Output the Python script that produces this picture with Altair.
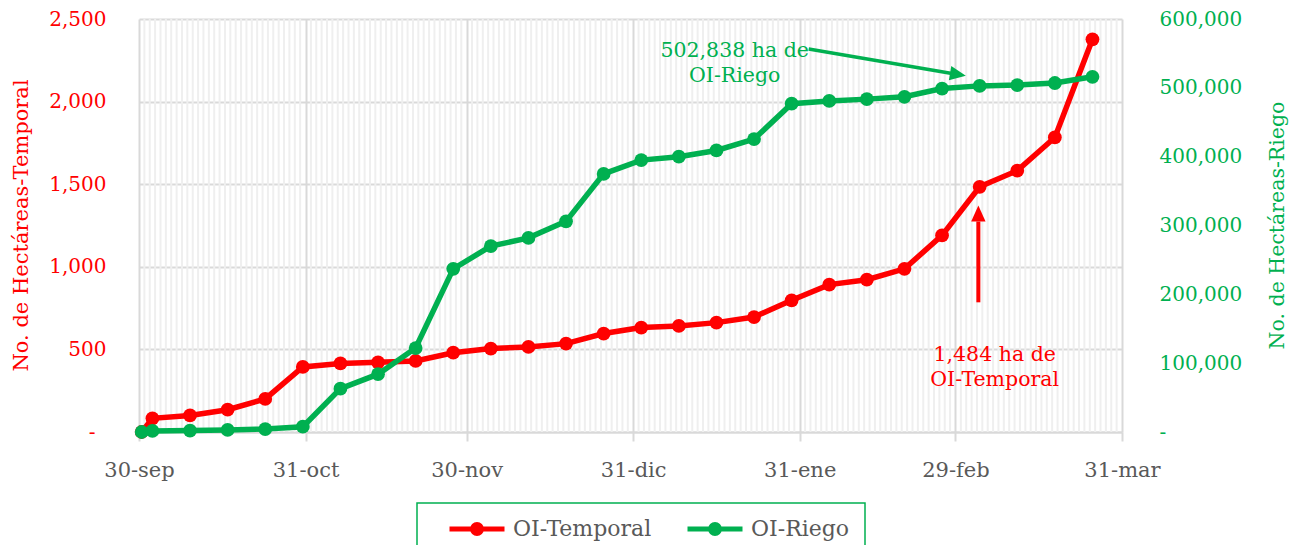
import altair as alt
import pandas as pd

# ---------------- data ----------------
fechas = ["2019-09-30", "2019-10-02", "2019-10-09", "2019-10-16", "2019-10-23", "2019-10-30",
          "2019-11-06", "2019-11-13", "2019-11-20", "2019-11-27", "2019-12-04", "2019-12-11",
          "2019-12-18", "2019-12-25", "2020-01-01", "2020-01-08", "2020-01-15", "2020-01-22",
          "2020-01-29", "2020-02-05", "2020-02-12", "2020-02-19", "2020-02-26", "2020-03-04",
          "2020-03-11", "2020-03-18", "2020-03-25"]
oi_temporal = [0, 83, 100, 135, 200, 394, 415, 422, 430, 480, 505, 515, 535, 596, 632, 642,
               662, 696, 797, 892, 922, 988, 1190, 1484, 1582, 1783, 2377]
oi_riego = [0, 1500, 2000, 3000, 4300, 7700, 63000, 84000, 122000, 237000, 270000, 282000,
            306000, 375000, 395000, 400000, 409000, 425500, 477000, 481000, 483600, 487000,
            499000, 502838, 504000, 507000, 516000]

series = ["OI-Temporal", "OI-Riego"]
meses_es = ["ene", "feb", "mar", "abr", "may", "jun", "jul", "ago", "sep", "oct", "nov", "dic"]
ticks_x = [(2019, 9, 30), (2019, 10, 31), (2019, 11, 30), (2019, 12, 31),
           (2020, 1, 31), (2020, 2, 29), (2020, 3, 31)]
ticks_left = [0, 500, 1000, 1500, 2000, 2500]
ticks_right = [0, 100000, 200000, 300000, 400000, 500000, 600000]

titulo_izq = "No. de Hectáreas-Temporal"
titulo_der = "No. de Hectáreas-Riego"

# annotations (day offsets from 30-sep, values in the axis units of each series)
texto_riego = ["502,838 ha de", "OI-Riego"]
texto_temporal = ["1,484 ha de", "OI-Temporal"]
texto_riego_pos = (110.9, 553600)
texto_temporal_pos = (159.3, 465)
flecha_riego = (124.67, 556500, 151.36, 520900)     # start day, start val, end day, end val
punta_riego = (153.93, 517400)
flecha_temporal = (156.26, 785, 156.26, 1274)
punta_temporal = (156.26, 1371)

# ---------------- style ----------------
FONT = "DejaVu Serif"
RED = "#ff0000"
GREEN = "#00b050"
GRAY = "#595959"
GRID = "#d9d9d9"
MINOR = "#efefef"

base = pd.Timestamp("2019-09-30")


def d(days):
    return base + pd.Timedelta(days=days)


fechas_dt = pd.to_datetime(fechas) + pd.Timedelta(hours=12)
df_t = pd.DataFrame({"fecha": fechas_dt, "temporal": oi_temporal, "serie": series[0]})
df_r = pd.DataFrame({"fecha": fechas_dt, "riego": oi_riego, "serie": series[1]})

month_end_dates = pd.to_datetime([f"{y}-{m:02d}-{dd:02d}" for y, m, dd in ticks_x])
dias = pd.date_range(month_end_dates[0], month_end_dates[-1], freq="D")
dias = dias[~dias.isin(month_end_dates)]
df_dias = pd.DataFrame({"fecha": dias})

meses_js = "[" + ",".join(f"'{m}'" for m in meses_es) + "]"
x_axis = alt.Axis(
    values=[alt.DateTime(year=y, month=m, date=dd) for y, m, dd in ticks_x],
    labelExpr=f"date(datum.value) + '-' + {meses_js}[month(datum.value)]",
    grid=True, gridColor=GRID, gridWidth=2,
    domainColor=GRID, domainWidth=2,
    tickColor=GRID, tickWidth=2, tickSize=9,
    labelFont=FONT, labelFontSize=21, labelColor=GRAY, labelPadding=18,
    labelOverlap=False, labelFlush=False, title=None,
)
x_scale = alt.Scale(domain=[alt.DateTime(year=2019, month=9, date=30),
                            alt.DateTime(year=2020, month=3, date=31)])


def X(field="fecha"):
    return alt.X(f"{field}:T", scale=x_scale, axis=x_axis)


left_axis = alt.Axis(
    orient="left", values=ticks_left,
    labelExpr="datum.value == 0 ? '-' : format(datum.value, ',')",
    labelPadding={"condition": {"test": "datum.value == 0", "value": 44}, "value": 33},
    grid=True, gridColor=GRID, gridWidth=2,
    domain=False, ticks=False,
    labelFont=FONT, labelFontSize=20, labelColor=RED,
    title=titulo_izq, titleFont=FONT, titleFontSize=21, titleColor=RED,
    titleFontWeight="normal", titleAngle=270, titleX=-118, titleY=206,
    titleAlign="center", titleBaseline="middle",
)
right_axis = alt.Axis(
    orient="right", values=ticks_right,
    labelExpr="datum.value == 0 ? '-' : format(datum.value, ',')",
    grid=False, domain=False, ticks=False,
    labelFont=FONT, labelFontSize=20, labelColor=GREEN, labelPadding=37,
    title=titulo_der, titleFont=FONT, titleFontSize=20.5, titleColor=GREEN,
    titleFontWeight="normal", titleAngle=270, titleX=155, titleY=206,
    titleAlign="center", titleBaseline="middle",
)
left_scale = alt.Scale(domain=[0, 2500])
right_scale = alt.Scale(domain=[0, 600000])


def YL(field):
    return alt.Y(f"{field}:Q", scale=left_scale, axis=left_axis)


def YR(field):
    return alt.Y(f"{field}:Q", scale=right_scale, axis=right_axis)


legend_path = ("M-1,0L1,0"
               "M0.16,0A0.16,0.16,0,1,1,-0.16,0A0.16,0.16,0,1,1,0.16,0"
               "M0.06,0A0.06,0.06,0,1,1,-0.06,0A0.06,0.06,0,1,1,0.06,0")
legend = alt.Legend(
    title=None, orient="none", legendX=278, legendY=484, direction="horizontal",
    symbolType=legend_path, symbolSize=3025, symbolStrokeWidth=5, clipHeight=22,
    labelFont=FONT, labelFontSize=22, labelColor=GRAY, labelOffset=6,
    columnPadding=18, padding=15, symbolOffset=15,
    strokeColor=GREEN, fillColor="white",
)
color_scale = alt.Scale(domain=series, range=[RED, GREEN])
C = alt.Color("serie:N", scale=color_scale, legend=legend)
F = alt.Fill("serie:N", scale=color_scale, legend=None)

# ---------------- layers ----------------
minor_grid = alt.Chart(df_dias).mark_rule(color=MINOR, strokeWidth=2).encode(x=X())

LW = 5.5
MS = 190
red_line = alt.Chart(df_t).mark_line(strokeWidth=LW).encode(x=X(), y=YL("temporal"), color=C)
red_pts = alt.Chart(df_t).mark_point(filled=True, size=MS, opacity=1, strokeWidth=0).encode(
    x=X(), y=YL("temporal"), fill=F)
green_line = alt.Chart(df_r).mark_line(strokeWidth=LW).encode(x=X(), y=YR("riego"), color=C)
green_pts = alt.Chart(df_r).mark_point(filled=True, size=MS, opacity=1, strokeWidth=0).encode(
    x=X(), y=YR("riego"), fill=F)

df_txt_t = pd.DataFrame({"fecha": [d(texto_temporal_pos[0])], "valor": [texto_temporal_pos[1]],
                         "texto": [texto_temporal]})
df_txt_r = pd.DataFrame({"fecha": [d(texto_riego_pos[0])], "valor": [texto_riego_pos[1]],
                         "texto": [texto_riego]})
txt_t = alt.Chart(df_txt_t).mark_text(
    font=FONT, fontSize=20.5, color=RED, lineHeight=25, align="center", baseline="middle"
).encode(x=X(), y=YL("valor"), text="texto")
txt_r = alt.Chart(df_txt_r).mark_text(
    font=FONT, fontSize=20.5, color=GREEN, lineHeight=25, align="center", baseline="middle"
).encode(x=X(), y=YR("valor"), text="texto")

df_fl_t = pd.DataFrame({"fecha": [d(flecha_temporal[0])], "fecha2": [d(flecha_temporal[2])],
                        "valor": [flecha_temporal[1]], "valor2": [flecha_temporal[3]]})
df_fl_r = pd.DataFrame({"fecha": [d(flecha_riego[0])], "fecha2": [d(flecha_riego[2])],
                        "valor": [flecha_riego[1]], "valor2": [flecha_riego[3]]})
fl_t = alt.Chart(df_fl_t).mark_rule(color=RED, strokeWidth=4).encode(
    x=X(), x2="fecha2:T", y=YL("valor"), y2="valor2:Q")
fl_r = alt.Chart(df_fl_r).mark_rule(color=GREEN, strokeWidth=3.5).encode(
    x=X(), x2="fecha2:T", y=YR("valor"), y2="valor2:Q")

head_path = "M0,0L0.9,2L-0.9,2Z"
df_pt_t = pd.DataFrame({"fecha": [d(punta_temporal[0])], "valor": [punta_temporal[1]]})
df_pt_r = pd.DataFrame({"fecha": [d(punta_riego[0])], "valor": [punta_riego[1]]})
pt_t = alt.Chart(df_pt_t).mark_point(
    shape=head_path, size=256, filled=True, color=RED, opacity=1, angle=0
).encode(x=X(), y=YL("valor"))
pt_r = alt.Chart(df_pt_r).mark_point(
    shape=head_path, size=256, filled=True, color=GREEN, opacity=1, angle=99.7
).encode(x=X(), y=YR("valor"))

red_group = alt.layer(red_line, red_pts, txt_t, fl_t, pt_t)
green_group = alt.layer(green_line, green_pts, txt_r, fl_r, pt_r)

chart = alt.layer(minor_grid, red_group, green_group).resolve_scale(
    y="independent"
).properties(
    width=983, height=413,
    padding={"left": 131, "top": 11, "right": 172, "bottom": 113},
    autosize=alt.AutoSizeParams(type="none"),
    background="white",
).configure_view(
    stroke="transparent"
).configure_legend(
    strokeWidth=1.5
)

chart.save("out.html", embed_options={"renderer": "svg", "actions": False})
